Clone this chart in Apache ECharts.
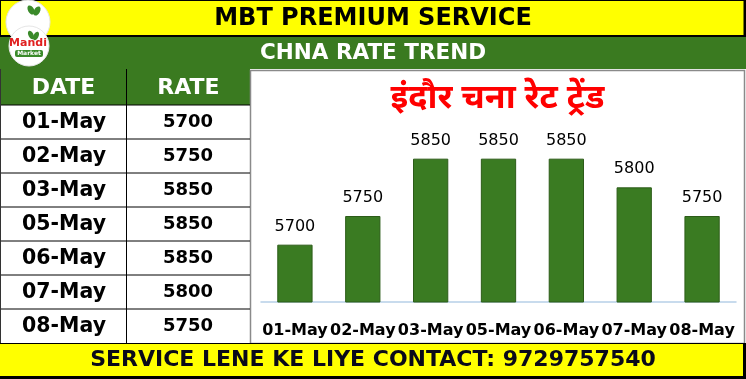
<!DOCTYPE html>
<html><head><meta charset="utf-8">
<script src="https://cdn.jsdelivr.net/npm/echarts@6/dist/echarts.min.js"></script>
<style>html,body{margin:0;padding:0;background:#fff}#c{width:746px;height:379px}</style>
</head><body><div id="c"></div>
<script>
var categories = ['01-May','02-May','03-May','05-May','06-May','07-May','08-May'];
var rates = [5700,5750,5850,5850,5850,5800,5750];
var headerTitle = 'MBT PREMIUM SERVICE';
var subTitle = 'CHNA RATE TREND';
var chartTitle = 'इंदौर चना रेट ट्रेंड';
var footerText = 'SERVICE LENE KE LIYE CONTACT: 9729757540';
var tableHeads = ['DATE','RATE'];

var GREEN = '#3a7a20', YELLOW = '#ffff00';
var chart = echarts.init(document.getElementById('c'), null, {renderer:'canvas'});
function txt(x,y,t,font,fill,align){
  return {type:'text', x:x, y:y, z:10, style:{text:t, font:font, fill:fill, align:align||'center', verticalAlign:'middle', textAlign:align||'center', textVerticalAlign:'middle'}};
}
var g = [];
// top banner
g.push({type:'rect', z:1, shape:{x:0,y:0,width:746,height:379}, style:{fill:'#fff'}});
g.push({type:'rect', z:2, shape:{x:0,y:0,width:746,height:37}, style:{fill:'#000'}});
g.push({type:'rect', z:3, shape:{x:1,y:1,width:742.5,height:34}, style:{fill:YELLOW}});
g.push(txt(373,18.5,headerTitle,'bold 24px "DejaVu Sans"','#000'));
// green band
g.push({type:'rect', z:2, shape:{x:0,y:37,width:746,height:32}, style:{fill:GREEN}});
g.push(txt(373,53,subTitle,'bold 21.5px "DejaVu Sans"','#fff'));
// table
var rowTop = 105, rowH = 34.0;
g.push({type:'rect', z:2, shape:{x:0,y:69,width:250,height:36}, style:{fill:GREEN}});
g.push({type:'rect', z:2, shape:{x:0,y:rowTop,width:250,height:rowH*categories.length}, style:{fill:'#fff'}});
g.push(txt(63.5,88,tableHeads[0],'bold 22px "DejaVu Sans"','#fff'));
g.push(txt(188.5,88,tableHeads[1],'bold 22px "DejaVu Sans"','#fff'));
for (var i=0;i<categories.length;i++){
  var cy = rowTop + rowH*i + rowH/2;
  g.push(txt(64,cy+0.5,categories[i],'bold 20.5px "DejaVu Sans"','#000'));
  g.push(txt(188,cy+0.5,String(rates[i]),'bold 18px "DejaVu Sans"','#000'));
  g.push({type:'line', z:5, shape:{x1:0,y1:rowTop+rowH*i,x2:250,y2:rowTop+rowH*i}, style:{stroke:'#000',lineWidth:1}});
}
g.push({type:'line', z:5, shape:{x1:126.5,y1:69,x2:126.5,y2:343}, style:{stroke:'#000',lineWidth:1}});
g.push({type:'line', z:5, shape:{x1:0.5,y1:69,x2:0.5,y2:343}, style:{stroke:'#333',lineWidth:1}});
// chart area
g.push({type:'rect', z:2, shape:{x:250.5,y:70.5,width:494,height:273}, style:{fill:'#fff',stroke:'#8a8a8a',lineWidth:1.5}});
g.push(txt(497.5,102,chartTitle,'bold 34px "Noto Sans Devanagari", "Noto Sans", sans-serif','#ff0000'));
// footer
g.push({type:'rect', z:6, shape:{x:0,y:343,width:746,height:36}, style:{fill:'#000'}});
g.push({type:'rect', z:7, shape:{x:0,y:344,width:743,height:32}, style:{fill:YELLOW}});
g.push(txt(373,360,footerText,'bold 22px "DejaVu Sans"','#0a0a1a'));
// logos
g.push({type:'circle', z:11, shape:{cx:28,cy:22,r:22}, style:{fill:'#fff',stroke:'#e6e6e6',lineWidth:1}});
g.push({type:'ellipse', z:12, shape:{cx:31,cy:10,rx:3,ry:5}, rotation:0.5, originX:31, originY:10, style:{fill:'#3a8a2a'}});
g.push({type:'ellipse', z:12, shape:{cx:37,cy:11,rx:3,ry:5}, rotation:-0.5, originX:37, originY:11, style:{fill:'#3a8a2a'}});
g.push(txt(27,19.5,'Mandi','bold 12px "DejaVu Sans"','#e02020'));
g.push({type:'circle', z:13, shape:{cx:29,cy:46,r:20}, style:{fill:'#fff',stroke:'#e6e6e6',lineWidth:1}});
g.push({type:'ellipse', z:14, shape:{cx:31,cy:35,rx:2.5,ry:4.5}, rotation:0.5, originX:31, originY:35, style:{fill:'#3a8a2a'}});
g.push({type:'ellipse', z:14, shape:{cx:36,cy:36,rx:2.5,ry:4.5}, rotation:-0.5, originX:36, originY:36, style:{fill:'#3a8a2a'}});
g.push({type:'text', z:15, x:28, y:43.5, style:{text:'Mandi', font:'bold 11px "DejaVu Sans"', fill:'#e02020', align:'center', verticalAlign:'middle', textAlign:'center', textVerticalAlign:'middle'}});
g.push({type:'rect', z:15, shape:{x:15,y:50,width:28,height:7,r:2}, style:{fill:'#3a8a2a'}});
g.push({type:'text', z:16, x:29, y:53.5, style:{text:'Market', font:'bold 6px "DejaVu Sans"', fill:'#fff', align:'center', verticalAlign:'middle', textAlign:'center', textVerticalAlign:'middle'}});

chart.setOption({
  animation:false,
  graphic:{elements:g},
  grid:{left:261, right:10, top:130, bottom:77, containLabel:false},
  xAxis:{type:'category', data:categories, z:8,
    axisLine:{show:true, lineStyle:{color:'#b7cfe8', width:1.5}},
    axisTick:{show:false},
    axisLabel:{interval:0, hideOverlap:false, margin:21, color:'#000', fontWeight:'bold', fontSize:16, fontFamily:'DejaVu Sans'}
  },
  yAxis:{type:'value', min:5600, max:5900, show:false, splitLine:{show:false}},
  series:[{type:'bar', data:rates, z:8, barWidth:'52%',
    itemStyle:{color:'#3a7b22', borderColor:'#2c5c18', borderWidth:1},
    label:{show:true, position:'top', distance:10, color:'#000', fontSize:16, fontFamily:'DejaVu Sans'}
  }]
});
</script></body></html>
